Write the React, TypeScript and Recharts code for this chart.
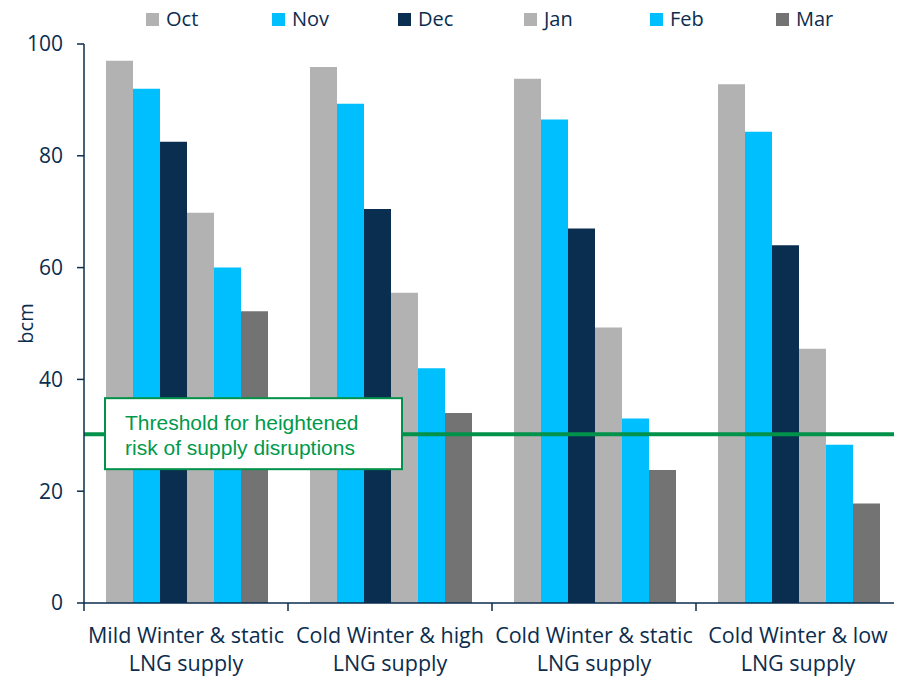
import { Bar, BarChart, Legend, ReferenceLine, XAxis, YAxis } from "recharts";

const scenarios = [
  "Mild Winter & static LNG supply",
  "Cold Winter & high LNG supply",
  "Cold Winter & static LNG supply",
  "Cold Winter & low LNG supply",
];
const labelTop = ["Mild Winter & static", "Cold Winter & high", "Cold Winter & static", "Cold Winter & low"];
const labelBottom = ["LNG supply", "LNG supply", "LNG supply", "LNG supply"];

const months = ["Oct", "Nov", "Dec", "Jan", "Feb", "Mar"];
const oct = [97.0, 95.9, 93.8, 92.8];
const nov = [92.0, 89.3, 86.5, 84.3];
const dec = [82.5, 70.5, 67.0, 64.0];
const jan = [69.8, 55.5, 49.3, 45.5];
const feb = [60.0, 42.0, 33.0, 28.3];
const mar = [52.2, 34.0, 23.8, 17.8];
const threshold = 30.2;
const yTicks = [0, 20, 40, 60, 80, 100];

const COLOR: Record<string, string> = {
  Oct: "#b2b2b2",
  Nov: "#00bfff",
  Dec: "#0a2e50",
  Jan: "#b2b2b2",
  Feb: "#00bfff",
  Mar: "#737373",
};

const NAVY = "#0b2d4e";
const GREEN = "#00924a";
const FONT = "'Open Sans', sans-serif";

const series = [oct, nov, dec, jan, feb, mar];
const data = scenarios.map((name, i) => {
  const row: Record<string, string | number> = { name };
  months.forEach((m, j) => {
    row[m] = series[j][i];
  });
  return row;
});

// category label in two lines, plus the tick marks at the group boundaries
function CategoryTick(props: any) {
  const { x, y, payload } = props;
  const i = payload.index;
  const half = payload.offset || 0;
  return (
    <g>
      <line x1={x - half} x2={x - half} y1={y} y2={y + 8} stroke={NAVY} strokeWidth={1.5} />
      {i === labelTop.length - 1 && (
        <line x1={x + half} x2={x + half} y1={y} y2={y + 8} stroke={NAVY} strokeWidth={1.5} />
      )}
      <text x={x} y={y} textAnchor="middle" fill={NAVY} fontSize={21.5} fontFamily={FONT}>
        <tspan x={x} dy={40}>{labelTop[i]}</tspan>
        <tspan x={x} dy={28}>{labelBottom[i]}</tspan>
      </text>
    </g>
  );
}

function ThresholdBox(props: any) {
  const vb = props.viewBox || {};
  const x = vb.x;
  const y = vb.y;
  return (
    <g>
      <rect x={x + 21} y={y - 36} width={297} height={71} fill="#fff" stroke={GREEN} strokeWidth={2} />
      <text fill="#00994c" fontSize={21} fontFamily="'Liberation Sans', Arial, sans-serif">
        <tspan x={x + 41} y={y - 4}>Threshold for heightened</tspan>
        <tspan x={x + 41} y={y + 21}>risk of supply disruptions</tspan>
      </text>
    </g>
  );
}

function MonthLegend() {
  return (
    <div style={{ display: "flex", paddingLeft: 138, fontFamily: FONT, fontSize: 20, color: NAVY, lineHeight: "22px" }}>
      {months.map((m) => (
        <div key={m} style={{ width: 126, display: "flex", alignItems: "center" }}>
          <span style={{ width: 13, height: 13, background: COLOR[m], marginRight: 7, display: "inline-block" }} />
          {m}
        </div>
      ))}
    </div>
  );
}

export default function App() {
  return (
    <div style={{ width: 894, height: 668 }}>
      <BarChart
        width={894}
        height={668}
        data={data}
        margin={{ top: 36, right: 2, bottom: 0, left: 0 }}
        barCategoryGap={22}
        barGap={0}
      >
        <XAxis
          dataKey="name"
          height={73}
          interval={0}
          tickLine={false}
          tickSize={0}
          tickMargin={0}
          axisLine={{ stroke: NAVY, strokeWidth: 1.5 }}
          tick={<CategoryTick />}
        />
        <YAxis
          width={76}
          domain={[0, 100]}
          ticks={yTicks}
          tickSize={7}
          tickMargin={14}
          axisLine={{ stroke: NAVY, strokeWidth: 1.5 }}
          tickLine={{ stroke: NAVY, strokeWidth: 1.5 }}
          tick={{ fill: NAVY, fontSize: 21, fontFamily: FONT }}
          label={(p: any) => {
            const vb = p.viewBox || {};
            const cx = 17;
            const cy = vb.y + vb.height / 2;
            return (
              <text
                x={cx}
                y={cy}
                transform={`rotate(-90 ${cx} ${cy})`}
                textAnchor="middle"
                dominantBaseline="central"
                fill={NAVY}
                fontSize={20}
                fontFamily={FONT}
              >
                bcm
              </text>
            );
          }}
        />
        <Legend
          layout="horizontal"
          verticalAlign="middle"
          align="center"
          wrapperStyle={{ position: "absolute", top: 0, left: 0, width: 894 }}
          content={<MonthLegend />}
        />
        {months.map((m) => (
          <Bar key={m} dataKey={m} fill={COLOR[m]} isAnimationActive={false} />
        ))}
        <ReferenceLine
          y={threshold}
          stroke={GREEN}
          strokeWidth={4}
          ifOverflow="extendDomain"
          label={(p: any) => <ThresholdBox {...p} />}
        />
      </BarChart>
    </div>
  );
}
